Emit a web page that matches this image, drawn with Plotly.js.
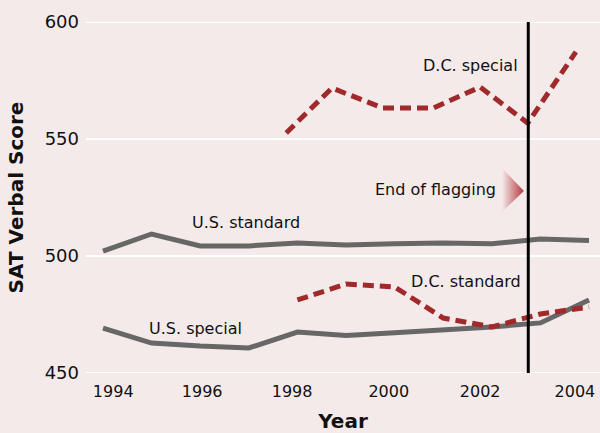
<!DOCTYPE html>
<html>
<head>
<meta charset="utf-8">
<script src="https://cdn.plot.ly/plotly-3.0.1.min.js"></script>
<style>
  html, body { margin: 0; padding: 0; background: #f4eaea; }
  #chart { width: 600px; height: 433px; }
</style>
</head>
<body>
<div id="chart"></div>
<script>
// ---- Data ----
const years = [1994, 1995, 1996, 1997, 1998, 1999, 2000, 2001, 2002, 2003, 2004];
const usStandard = [502.1, 509.4, 504.3, 504.3, 505.6, 504.7, 505.2, 505.6, 505.2, 507.3, 506.6];
const usSpecial  = [469.2, 462.8, 461.5, 460.7, 467.5, 466.0, 467.2, 468.4, 469.7, 471.4, 481.2];

const dcYears    = [1998, 1999, 2000, 2001, 2002, 2003, 2004];
const dcStandard = [481.2, 488.0, 486.8, 473.5, 469.7, 475.2, 478.2];
// D.C. special is drawn slightly left of the other series in the reference
const dcSpecialX = [1997.77, 1998.71, 1999.76, 2000.79, 2001.76, 2002.74, 2003.73];
const dcSpecial  = [552.6, 571.8, 563.2, 563.2, 572.2, 556.8, 587.2];

const tickLabels = ['1994', '1996', '1998', '2000', '2002', '2004'];
const tickPos    = [1994.21, 1996.04, 1997.89, 1999.88, 2001.76, 2003.71];
const yTicks     = [450, 500, 550, 600];
const yMin = 450, yMax = 600;
const flagEndYear = 2002.75;

// ---- Styles ----
const BG = '#f4eaea';
const GRAY = '#676767';
const RED = '#a0292b';
const FONT = 'DejaVu Sans, Verdana, sans-serif';

const traces = [
  { x: years, y: usStandard, mode: 'lines', line: { color: GRAY, width: 5 }, hoverinfo: 'skip', name: 'U.S. standard' },
  { x: years, y: usSpecial,  mode: 'lines', line: { color: GRAY, width: 5 }, hoverinfo: 'skip', name: 'U.S. special' },
  { x: dcYears, y: dcStandard, mode: 'lines', line: { color: RED, width: 5, dash: '11px,6px' }, hoverinfo: 'skip', name: 'D.C. standard' },
  { x: dcSpecialX, y: dcSpecial, mode: 'lines', line: { color: RED, width: 5, dash: '11px,6px' }, hoverinfo: 'skip', name: 'D.C. special' },
  // gradient arrowhead next to "End of flagging"
  { x: [2002.21, 2002.66, 2002.21, 2002.21], y: [537.6, 527.8, 518.8, 537.6],
    mode: 'lines', line: { width: 0, color: 'rgba(0,0,0,0)' }, fill: 'toself',
    fillgradient: { type: 'horizontal', colorscale: [[0, 'rgba(176,48,52,0)'], [1, 'rgba(176,48,52,0.95)']] },
    hoverinfo: 'skip', showlegend: false }
];

const ann = (text, x, y, xanchor) => ({
  text, x, y, xref: 'x', yref: 'y', xanchor, yanchor: 'middle', showarrow: false,
  font: { family: FONT, size: 16, color: '#111' }
});

// gridlines at the range edges (Plotly omits these)
const edgeGrid = [yMin, yMax].map(v => ({
  type: 'line', xref: 'paper', yref: 'y', x0: 0, x1: 1, y0: v, y1: v,
  line: { color: '#ffffff', width: 2 }, layer: 'below'
}));

const layout = {
  width: 600, height: 433,
  paper_bgcolor: BG, plot_bgcolor: BG,
  margin: { l: 86, r: 0, t: 22, b: 60 },
  showlegend: false,
  font: { family: FONT, color: '#111' },
  xaxis: {
    range: [1993.65, 2004.226],
    tickvals: tickPos, ticktext: tickLabels,
    showgrid: false, zeroline: false, showline: false, ticks: '',
    tickfont: { family: FONT, size: 16, color: '#111' },
    ticklabelstandoff: 7,
    title: { text: 'Year', font: { family: FONT, size: 20, weight: 'bold', color: '#111' }, standoff: 14 },
    fixedrange: true
  },
  yaxis: {
    range: [yMin, yMax],
    tickvals: yTicks,
    showgrid: true, gridcolor: '#ffffff', gridwidth: 2,
    zeroline: false, showline: false, ticks: '',
    tickfont: { family: FONT, size: 18, color: '#111' },
    ticklabelstandoff: 6,
    title: { text: 'SAT Verbal Score', font: { family: FONT, size: 20, weight: 'bold', color: '#111' }, standoff: 15 },
    fixedrange: true
  },
  shapes: edgeGrid.concat([
    { type: 'line', xref: 'x', yref: 'y', x0: flagEndYear, x1: flagEndYear, y0: yMin, y1: yMax,
      line: { color: '#000', width: 3 }, layer: 'above' }
  ]),
  annotations: [
    ann('D.C. special', 2002.58, 581.6, 'right'),
    ann('End of flagging', 2002.13, 528.4, 'right'),
    ann('U.S. standard', 1995.79, 514.3, 'left'),
    ann('U.S. special', 1994.905, 469.0, 'left'),
    ann('D.C. standard', 2000.30, 489.3, 'left')
  ]
};

Plotly.newPlot('chart', traces, layout, { displayModeBar: false, staticPlot: true });
</script>
</body>
</html>
